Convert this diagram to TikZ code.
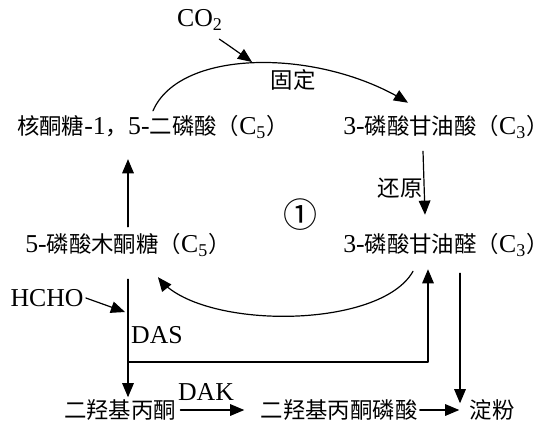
\documentclass[tikz,border=0pt]{standalone}
\usepackage{fontspec}
\setmainfont[Scale=1.15]{Liberation Serif}
\newfontfamily\cjk{Noto Sans CJK SC}
\newcommand{\zh}[1]{{\cjk #1}}
\usetikzlibrary{arrows}

\begin{document}
\begin{tikzpicture}[line cap=round,line join=round,>=triangle 45,x=0.5pt,y=-0.5pt,
  lbl/.style={inner sep=1pt,font=\fontsize{11.2pt}{13pt}\selectfont},
  flow/.style={->,line width=0.6pt}]
\useasboundingbox (0,0) rectangle (549,423);
% compounds
\node[lbl] (co2) at (200,20) {CO\textsubscript{2}};
\node[lbl] (rubp) at (153,127) {\zh{核酮糖}-1\zh{，}5-\zh{二磷酸（}C\textsubscript{5}\zh{）}};
\node[lbl] (pga) at (446,127) {3-\zh{磷酸甘油酸（}C\textsubscript{3}\zh{）}};
\node[lbl] (xu5p) at (128,245) {5-\zh{磷酸木酮糖（}C\textsubscript{5}\zh{）}};
\node[lbl] (gap) at (446,245) {3-\zh{磷酸甘油醛（}C\textsubscript{3}\zh{）}};
\node[lbl] (hcho) at (47,298) {HCHO};
\node[lbl] (dha) at (120,410) {\zh{二羟基丙酮}};
\node[lbl] (dhap) at (339,410) {\zh{二羟基丙酮磷酸}};
\node[lbl] (starch) at (492,410) {\zh{淀粉}};
% step labels
\node[lbl] (fix) at (293,80) {\zh{固定}};
\node[lbl] (red) at (400,188) {\zh{还原}};
\node[lbl] (das) at (157,335) {DAS};
\node[lbl] (dak) at (206,392) {DAK};
\node[font=\fontsize{17pt}{17pt}\selectfont] (cyc) at (300,215) {\zh{①}};
\coordinate (fixin) at (252,62);
\coordinate (hit) at (125,312);
\coordinate (split) at (128,362);
% Calvin cycle
\draw[flow] ([xshift=-3pt,yshift=-3pt]co2.south east) .. controls (228,45) .. (fixin);
\draw[flow] ([yshift=1pt]rubp.north) .. controls (180,48) and (320,48) .. ([xshift=-19pt,yshift=5pt]pga.north);
\draw[flow] ([xshift=-11.5pt,yshift=-5pt]pga.south) -- ([xshift=-10.5pt,yshift=8pt]gap.north);
\draw[flow] ([xshift=-16.5pt,yshift=-6pt]gap.south) .. controls (380,330) and (200,330) .. ([xshift=15pt,yshift=-9pt]xu5p.south);
\draw[flow] ([yshift=2pt]xu5p.north) -- (xu5p.north |- rubp.south) [shorten >=9pt];
% formaldehyde route
\draw[flow] (hcho.east) -- (hit);
\draw[flow] ([yshift=-10pt]xu5p.south) -- (xu5p.south |- dha.north);
\draw[flow] (split) -| ([xshift=-9pt,yshift=-5pt]gap.south);
\draw[flow] ([xshift=7pt,yshift=-7pt]gap.south) -- ([xshift=7pt,yshift=-7pt]gap.south |- starch.north) [shorten >=4pt];
\draw[flow,shorten >=7pt] ([xshift=1pt]dha.east) -- (dhap.west);
\draw[flow,shorten >=4pt] (dhap.east) -- (starch.west);
\end{tikzpicture}
\end{document}
